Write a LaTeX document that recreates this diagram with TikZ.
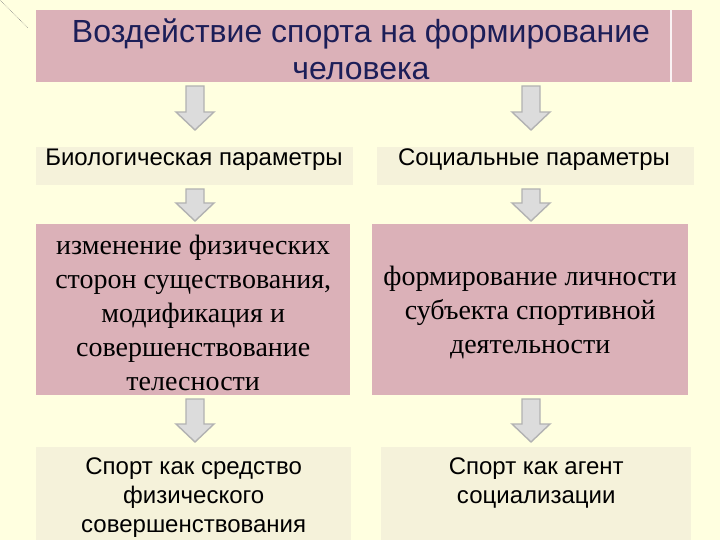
\documentclass[tikz,border=0pt]{standalone}
\usepackage{fontspec}
\setmainfont{Liberation Serif}
\setsansfont{Liberation Sans}
\definecolor{bgc}{RGB}{255,255,224}
\definecolor{pinkc}{RGB}{219,177,184}
\definecolor{beigec}{RGB}{245,242,218}
\definecolor{navy}{RGB}{28,30,88}
\definecolor{arrfill}{RGB}{220,220,220}
\definecolor{arrline}{RGB}{178,178,178}
\tikzset{
  pinkbox/.style={fill=pinkc, draw=none, anchor=north west, inner sep=0pt},
  beigebox/.style={fill=beigec, draw=none, anchor=north west, inner sep=0pt},
  titletext/.style={font=\sffamily\fontsize{32}{37}\selectfont, text=navy, align=center, inner sep=0pt},
  sanstext/.style={font=\sffamily\fontsize{24}{29}\selectfont, text=black, align=center, inner sep=0pt},
  seriftext/.style={font=\rmfamily\fontsize{28}{34}\selectfont, text=black, align=center, inner sep=0pt},
  arrowstyle/.style={fill=arrfill, draw=arrline, line width=1.4pt, line join=miter},
}
\newcommand\barrow[3]{\filldraw[arrowstyle] (#1-9,#2) -- (#1+9,#2) -- (#1+9,#3-18) -- (#1+19,#3-18) -- (#1,#3) -- (#1-19,#3-18) -- (#1-9,#3-18) -- cycle;}
\begin{document}
\begin{tikzpicture}[x=1pt,y=-1pt]
\useasboundingbox (0,0) rectangle (720,540);
\fill[bgc] (0,0) rectangle (720,540);
\draw[gray, densely dotted, line width=0.6pt] (0,0) -- (28,28);
% title
\node[pinkbox, minimum width=656pt, minimum height=72pt] (title) at (36,10) {};
\draw[white!85!pinkc, line width=1.2pt] (671,10) -- (671,82);
\node[titletext] (titlet) at (361,49) {Воздействие спорта на формирование\\человека};
% row 2
\node[beigebox, minimum width=317pt, minimum height=38pt] (bio) at (36,147) {};
\node[beigebox, minimum width=317pt, minimum height=38pt] (soc) at (377,147) {};
\node[sanstext, anchor=base] (biot) at (194,166) {Биологическая параметры};
\node[sanstext, anchor=base] (soct) at (534,166) {Социальные параметры};
% row 3
\node[pinkbox, minimum width=314pt, minimum height=171pt] (phys) at (36,224) {};
\node[pinkbox, minimum width=316pt, minimum height=171pt] (pers) at (372,224) {};
\node[seriftext] (physt) at ([yshift=-3pt]phys.center) {изменение физических\\сторон существования,\\модификация и\\совершенствование\\телесности};
\node[seriftext] (perst) at ([yshift=-3pt]pers.center) {формирование личности\\субъекта спортивной\\деятельности};
% row 4
\node[beigebox, minimum width=315pt, minimum height=93pt] (sport1) at (36,447) {};
\node[beigebox, minimum width=310pt, minimum height=93pt] (sport2) at (381,447) {};
\node[sanstext, anchor=north] (sport1t) at ([yshift=-11pt]sport1.north) {Спорт как средство\\физического\\совершенствования};
\node[sanstext, anchor=north] (sport2t) at ([yshift=-11pt]sport2.north) {Спорт как агент\\социализации};
% arrows
\barrow{195}{86}{130}
\barrow{531}{86}{130}
\barrow{195}{189}{221}
\barrow{531}{189}{221}
\barrow{195}{399}{442}
\barrow{531}{399}{442}
\end{tikzpicture}
\end{document}
